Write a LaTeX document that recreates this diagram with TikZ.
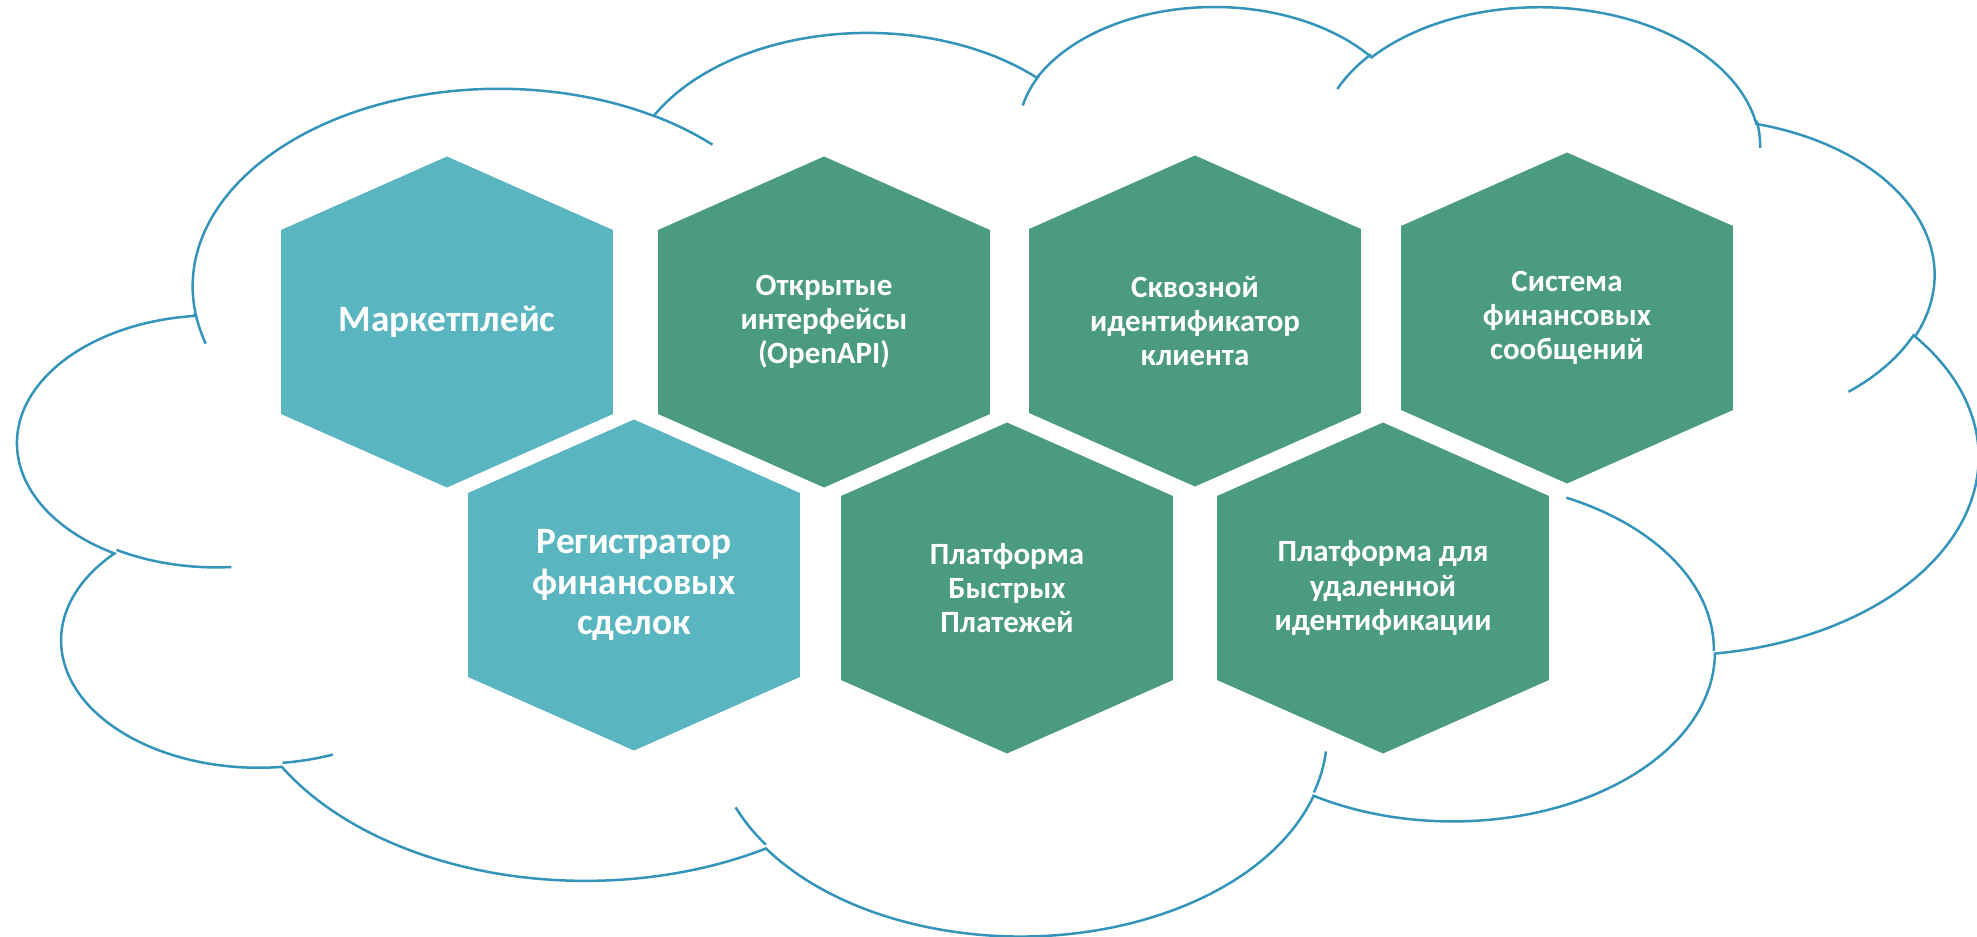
\documentclass[tikz,border=0pt]{standalone}
\usepackage{fontspec}
\setmainfont{Carlito}
\usepackage{tikz}
\usetikzlibrary{backgrounds}

\definecolor{hexteal}{HTML}{59B5C0}
\definecolor{hexgreen}{HTML}{4B9B81}
\definecolor{cloudblue}{HTML}{3494BA}

% one arc of the cloud, angles as stored in the slide (visual, not parametric)
\tikzset{
    cloud arc/.style n args={4}{
        x radius=#1, y radius=#2,
        start angle={atan2(#1*sin(#3),#2*cos(#3))},
        delta angle={mod(atan2(#1*sin(#3+#4),#2*cos(#3+#4))-atan2(#1*sin(#3),#2*cos(#3))+720,360)}
    }
}

\begin{document}
\begin{tikzpicture}[x=0.01cm,y=-0.01cm]
        \tikzstyle{cloudline}=[draw=cloudblue, line width=0.25mm]
        \tikzstyle{hexnode}=[
            rectangle,
            minimum width=33mm,
            minimum height=32.94mm,
            inner sep=0pt,
            align=center,
            text=white
        ]
        \tikzstyle{bigtext}=[font=\bfseries\fontsize{10.6}{11.4}\selectfont]
        \tikzstyle{smalltext}=[font=\bfseries\fontsize{8.8}{9.7}\selectfont]

        \useasboundingbox (0,0) rectangle (1977,937);

        % cloud outline
        \begin{scope}[shift={(18.6,4)}, x=0.45324mm, y=-0.21495mm]
            \draw[cloudline] (39.00,143.70)
                arc[cloud arc={67.53}{91.90}{-190.48748}{123.78053}]
                arc[cloud arc={53.33}{72.67}{-144.10238}{89.94523}]
                arc[cloud arc={43.65}{59.45}{-145.80792}{99.72302}]
                arc[cloud arc={48.57}{65.95}{-130.98607}{117.24173}]
                arc[cloud arc={53.33}{72.73}{-78.70888}{109.02692}]
                arc[cloud arc={67.75}{92.20}{-46.26725}{130.269}]
                arc[cloud arc={57.85}{78.67}{0.62502}{114.03333}]
                arc[cloud arc={67.52}{92.15}{22.4516}{115.17255}]
                arc[cloud arc={77.20}{105.43}{66.24263}{75.71102}]
                arc[cloud arc={43.60}{59.18}{-274.94208}{146.73557}]
                arc[cloud arc={43.45}{59.45}{-246.8285}{152.51885}]
                -- cycle;
            % inner stubs
            \draw[cloudline]
                (46.93,261.77) arc[cloud arc={43.45}{59.45}{86.742}{26.4295}]
                (69.28,348.99) arc[cloud arc={43.60}{59.18}{73.61047}{11.44747}]
                (164.78,390.90) arc[cloud arc={67.52}{92.15}{137.62415}{14.0811}]
                (288.27,347.51) arc[cloud arc={67.52}{92.15}{6.45327}{15.99835}]
                (341.29,229.54) arc[cloud arc={57.85}{78.67}{-70.29235}{70.91737}]
                (417.98,153.54) arc[cloud arc={53.33}{72.73}{30.31803}{27.7515}]
                (383.24,54.26) arc[cloud arc={48.57}{65.95}{-13.74433}{14.8589}]
                (290.78,39.52) arc[cloud arc={48.57}{65.95}{-149.18145}{18.19537}]
                (221.41,47.20) arc[cloud arc={43.65}{59.45}{-163.49427}{17.68635}]
                (140.00,51.92) arc[cloud arc={67.53}{91.90}{-66.70695}{12.31935}]
                (41.27,157.89) arc[cloud arc={67.53}{91.90}{157.65435}{11.85393}];
        \end{scope}

        \node[hexnode, bigtext] (mkt) at (447,322) {Маркетплейс};
        \node[hexnode, smalltext] (openapi) at (824,322) {Открытые\\интерфейсы\\(OpenAPI)};
        \node[hexnode, smalltext] (clientid) at (1195,321) {Сквозной\\идентификатор\\клиента};
        \node[hexnode, smalltext] (finmsg) at (1567,318) {Система\\финансовых\\сообщений};
        \node[hexnode, bigtext] (regfin) at (634,585) {Регистратор\\финансовых\\сделок};
        \node[hexnode, smalltext] (fastpay) at (1007,588) {Платформа\\Быстрых\\Платежей};
        \node[hexnode, smalltext] (remoteid) at (1383,588) {Платформа для\\удаленной\\идентификации};

        \begin{scope}[on background layer]
            \foreach \n/\c in {mkt/hexteal, regfin/hexteal, openapi/hexgreen, clientid/hexgreen,
                               finmsg/hexgreen, fastpay/hexgreen, remoteid/hexgreen}
                \fill[fill=\c] (\n.north) -- ([yshift=-7.34mm]\n.north east)
                    -- ([yshift=7.34mm]\n.south east) -- (\n.south)
                    -- ([yshift=7.34mm]\n.south west) -- ([yshift=-7.34mm]\n.north west) -- cycle;
        \end{scope}
\end{tikzpicture}
\end{document}
